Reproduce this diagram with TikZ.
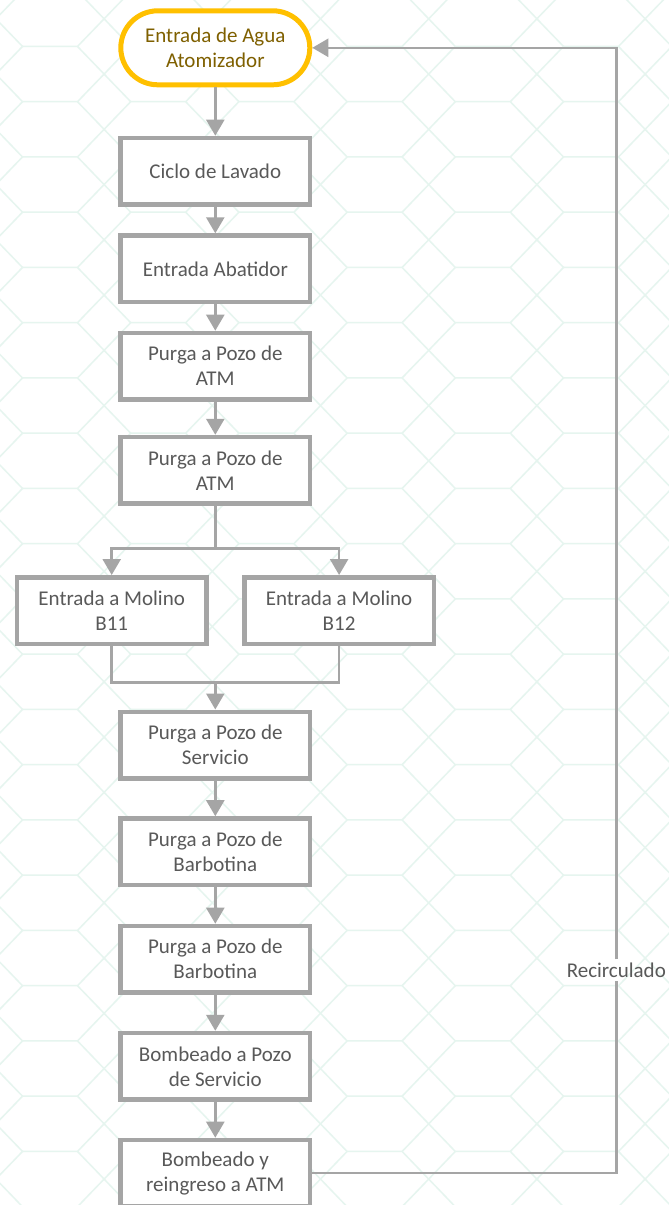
\documentclass[tikz,border=0pt]{standalone}
\usepackage{fontspec}
\setmainfont{Carlito}
\usetikzlibrary{arrows.meta}
\definecolor{lgray}{HTML}{A5A5A5}
\definecolor{tgray}{HTML}{595959}
\definecolor{gold}{HTML}{FFC000}
\definecolor{dgold}{HTML}{7F6000}
\definecolor{hexc}{HTML}{E6F5EF}
\begin{document}
\begin{tikzpicture}[x=1pt,y=-1pt,
  txt/.style={font=\fontsize{21}{25}\selectfont, align=center},
  proc/.style={txt, draw=lgray, line width=4.5pt, fill=white, minimum width=189.5pt, minimum height=66.5pt, inner sep=0pt, text=tgray},
  startbox/.style={txt, draw=gold, line width=5pt, fill=white, rounded corners=37pt, minimum width=189pt, minimum height=74pt, inner sep=0pt, text=dgold},
  conn/.style={draw=lgray, line width=2.5pt, -{Triangle[length=16pt,width=18pt]}},
  plain/.style={draw=lgray, line width=2.5pt},
  hexl/.style={draw=hexc, line width=1.5pt}
]
\useasboundingbox[fill=white] (0,0) rectangle (669,1205);
\begin{scope}
\clip (0,0) rectangle (669,1205);
\foreach \k in {-2,...,20}{
  \foreach \m in {-1,...,5}{
    \pgfmathsetmacro\a{22.5+108.2*\m}
    \pgfmathsetmacro\yy{101.7+55.25*\k}
    \draw[hexl] (\a,\yy) -- ++(55,0) -- ++(53.2,55.25) ++(-53.2,-55.25) -- ++(53.2,-55.25);
  }
}
\end{scope}

\node[startbox] (start) at (215.3,47.8) {Entrada de Agua\\Atomizador};
\node[proc] (c1) at (215.3,171.2) {Ciclo de Lavado};
\node[proc] (c2) at (215.3,268.8) {Entrada Abatidor};
\node[proc] (c3) at (215.3,366.2) {Purga a Pozo de\\ATM};
\node[proc] (c4) at (215.3,470.3) {Purga a Pozo de\\ATM};
\node[proc] (b11) at (111.7,610.5) {Entrada a Molino\\B11};
\node[proc] (b12) at (339.1,610.5) {Entrada a Molino\\B12};
\node[proc] (c5) at (215.3,745.0) {Purga a Pozo de\\Servicio};
\node[proc] (c6) at (215.3,851.7) {Purga a Pozo de\\Barbotina};
\node[proc] (c7) at (215.3,959.2) {Purga a Pozo de\\Barbotina};
\node[proc] (c8) at (215.3,1066.3) {Bombeado a Pozo\\de Servicio};
\node[proc] (c9) at (215.3,1173.2) {Bombeado y\\reingreso a ATM};

\coordinate (split) at (215.3,548.7);
\coordinate (join) at (215.3,682.7);
\coordinate (r1) at (616.3,1173.2);
\coordinate (r2) at (616.3,47.8);
\node[txt, text=tgray, inner sep=3pt] (lab) at (616.3,970) {Recirculado};

\draw[conn] (start) -- (c1);
\draw[conn] (c1) -- (c2);
\draw[conn] (c2) -- (c3);
\draw[conn] (c3) -- (c4);
\draw[plain] (c4) -- (split);
\draw[conn] (split) -| (b11);
\draw[conn] (split) -| (b12);
\draw[plain] (b11) |- (join);
\draw[plain] (b12) |- (join);
\draw[conn] (join) -- (c5);
\draw[conn] (c5) -- (c6);
\draw[conn] (c6) -- (c7);
\draw[conn] (c7) -- (c8);
\draw[conn] (c8) -- (c9);
\draw[plain] (c9) -- (r1) -- (lab);
\draw[conn] (lab) -- (r2) -- (start);
\end{tikzpicture}
\end{document}
